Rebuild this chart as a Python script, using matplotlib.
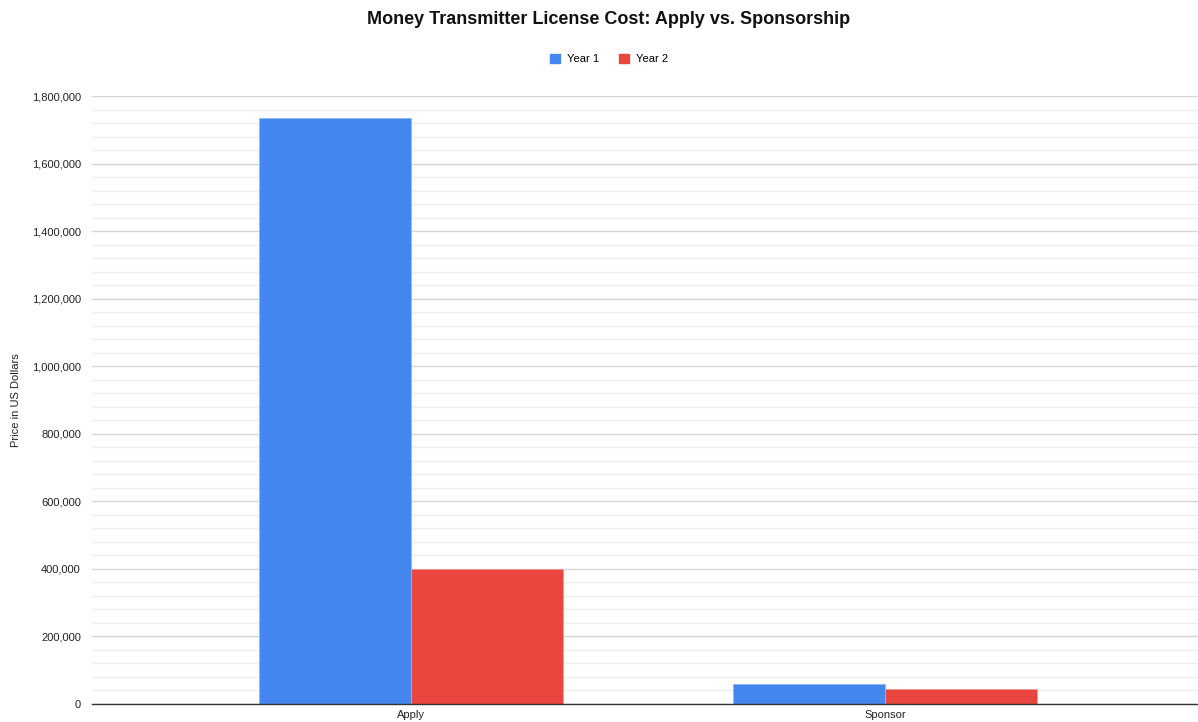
import matplotlib
matplotlib.use("Agg")
import matplotlib.pyplot as plt
from matplotlib.ticker import MultipleLocator, FuncFormatter
from matplotlib.patches import Patch

categories = ["Apply", "Sponsor"]
year1 = [1735000, 59000]
year2 = [400000, 45000]
series_names = ["Year 1", "Year 2"]

BLUE = "#4487EE"
RED = "#E8463E"

plt.rcParams["font.family"] = ["Liberation Sans", "DejaVu Sans"]

fig = plt.figure(figsize=(11.98, 7.22), dpi=100)
ax = fig.add_axes([92 / 1198, 1 - 704 / 722, 1 - 92 / 1198, (704 - 96) / 722])

w = 0.32
x = range(len(categories))
ax.bar([i - w / 2 for i in x], year1, width=w, color=BLUE, edgecolor="#8fb6f5", lw=0.6, zorder=3)
ax.bar([i + w / 2 for i in x], year2, width=w, color=RED, edgecolor="#f09a94", lw=0.6, zorder=3)

ax.set_xlim(-0.673, 1.66)
ax.set_ylim(0, 1800000)
ax.set_xticks(list(x))
ax.set_xticklabels(categories, fontsize=8, color="#222")
ax.yaxis.set_major_locator(MultipleLocator(200000))
ax.yaxis.set_minor_locator(MultipleLocator(40000))
ax.yaxis.set_major_formatter(FuncFormatter(lambda v, p: f"{int(v):,}"))
ax.tick_params(axis="y", which="both", length=0, labelsize=8, labelcolor="#222", pad=8)
ax.tick_params(axis="x", length=0, pad=4)
ax.grid(True, axis="y", which="major", color="#d6d6d6", lw=1.0, zorder=0)
ax.grid(True, axis="y", which="minor", color="#efefef", lw=1.0, zorder=0)
for sp in ("top", "right", "left"):
    ax.spines[sp].set_visible(False)
ax.spines["bottom"].set_color("#333")
ax.spines["bottom"].set_linewidth(1.0)
ax.spines["bottom"].set_zorder(4)

ax.set_ylabel("Price in US Dollars", fontsize=8, color="#222")
ax.yaxis.set_label_coords(-71 / 1106, 0.5)

fig.text(0.5 + 10 / 1198, 1 - 19 / 722, "Money Transmitter License Cost: Apply vs. Sponsorship",
         ha="center", va="center", fontsize=13, fontweight="bold", color="#111")

handles = [Patch(facecolor=BLUE, edgecolor=BLUE), Patch(facecolor=RED, edgecolor=RED)]
fig.legend(handles, series_names, loc="center", bbox_to_anchor=(0.5 + 10 / 1198, 1 - 59 / 722), ncol=2,
           frameon=False, fontsize=8, handlelength=0.9, handleheight=0.9, handletextpad=0.6,
           columnspacing=1.8)

fig.savefig("out.png", dpi=100)
